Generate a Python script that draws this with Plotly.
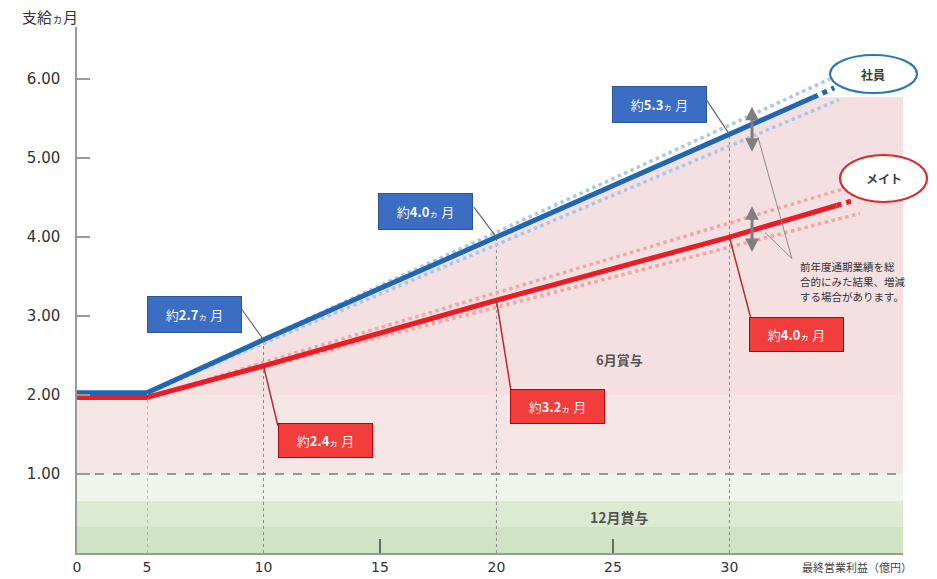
import plotly.graph_objects as go

# ---------------- data ----------------
# 社員 (employees) line: x = 最終営業利益(億円), y = 支給ヵ月
shain_x = [0, 5, 10, 20, 30, 33.6]
shain_y = [2.03, 2.03, 2.7, 4.0, 5.3, 5.77]
shain_ext_x = [33.6, 34.5]
shain_ext_y = [5.77, 5.89]
shain_band_up_x = [5, 34.3]
shain_band_up_y = [2.03, 6.0]
shain_band_lo_x = [5, 34.7]
shain_band_lo_y = [2.03, 5.74]

# メイト line
mate_x = [0, 5, 10, 20, 30, 34.6]
mate_y = [1.97, 1.97, 2.37, 3.2, 4.0, 4.4]
mate_ext_x = [34.6, 35.4]
mate_ext_y = [4.4, 4.47]
mate_band_up_x = [5, 35.0]
mate_band_up_y = [1.97, 4.62]
mate_band_lo_x = [5, 35.6]
mate_band_lo_y = [1.97, 4.3]

# callouts: (x on line, y on line, label value)
shain_callout_x = [10, 20, 30]
shain_callout_y = [2.7, 4.0, 5.3]
shain_callout_txt = ["2.7", "4.0", "5.3"]
mate_callout_x = [10, 20, 30]
mate_callout_y = [2.37, 3.2, 4.0]
mate_callout_txt = ["2.4", "3.2", "4.0"]

note_lines = ["前年度通期業績を総", "合的にみた結果、増減", "する場合があります。"]

vline_x = [5, 10, 20, 30]
x1_ticks = [0, 5]
x2_ticks = [10, 15, 20, 25, 30]
y_ticks = [1, 2, 3, 4, 5, 6]

# ---------------- layout constants ----------------
W, H = 937, 579
ML, MR, MT, MB = 77, 34, 27, 26
PW = W - ML - MR
PH = H - MT - MB
X1_END = 5
X2_MAX = 37.45
D1 = 70 / PW
Y_MAX = 6.66

BLUE = "#1f66b3"
RED = "#ec1c24"
BLUE_L = "#a8c8ea"
RED_L = "#f2a6a6"
BOX_BLUE = "#3b6ec2"
BOX_RED = "#f23d3d"
JP = "Noto Sans CJK JP"
NUM = "DejaVu Sans"

fig = go.Figure()


def split(xs, ys):
    a = [(x, y) for x, y in zip(xs, ys) if x <= X1_END]
    b = [(x, y) for x, y in zip(xs, ys) if x >= X1_END]
    return a, b


# band dotted lines
for bx, by, col in [(shain_band_up_x, shain_band_up_y, BLUE_L), (shain_band_lo_x, shain_band_lo_y, BLUE_L),
                    (mate_band_up_x, mate_band_up_y, RED_L), (mate_band_lo_x, mate_band_lo_y, RED_L)]:
    fig.add_trace(go.Scatter(x=bx, y=by, xaxis="x2", yaxis="y", mode="lines",
                             line=dict(color=col, width=3.5, dash="dot"), hoverinfo="skip"))

# main lines
for xs, ys, ex, ey, col in [(mate_x, mate_y, mate_ext_x, mate_ext_y, RED),
                            (shain_x, shain_y, shain_ext_x, shain_ext_y, BLUE)]:
    a, b = split(xs, ys)
    fig.add_trace(go.Scatter(x=[p[0] for p in a], y=[p[1] for p in a], xaxis="x", yaxis="y",
                             mode="lines", line=dict(color=col, width=5), hoverinfo="skip"))
    fig.add_trace(go.Scatter(x=[p[0] for p in b], y=[p[1] for p in b], xaxis="x2", yaxis="y",
                             mode="lines", line=dict(color=col, width=5), hoverinfo="skip"))
    fig.add_trace(go.Scatter(x=ex, y=ey, xaxis="x2", yaxis="y", mode="lines",
                             line=dict(color=col, width=5, dash="dot"), hoverinfo="skip"))

shapes = []
# green bands (12月賞与)
for y0, y1, c in [(0, 0.33, "#cfe4c2"), (0.33, 0.66, "#dbead1"), (0.66, 1.0, "#eef5ea")]:
    shapes.append(dict(type="rect", xref="paper", yref="y", x0=0, x1=1, y0=y0, y1=y1,
                       fillcolor=c, line=dict(width=0), layer="below"))
# pink band 1-2
shapes.append(dict(type="rect", xref="paper", yref="y", x0=0, x1=1, y0=1, y1=2,
                   fillcolor="#f5e6e6", line=dict(width=0), layer="below"))
# pink region above 2 (under 社員 line)
a, b = split(shain_x, shain_y)
pts = [(5, 2.0)] + b[1:] + [(X2_MAX, b[-1][1]), (X2_MAX, 2.0)]
path = "M " + " L ".join(f"{x},{y}" for x, y in pts) + " Z"
shapes.append(dict(type="path", xref="x2", yref="y", path=path,
                   fillcolor="#f4e0e0", line=dict(width=0), layer="below"))
# dashed line at 1.00
shapes.append(dict(type="line", xref="paper", yref="y", x0=0, x1=1, y0=1, y1=1,
                   line=dict(color="#7a7a7a", width=1.5, dash="dash"), layer="below"))
# vertical dotted guide lines up to 社員 line
for vx in vline_x:
    top = 2.0 if vx == 5 else shain_y[shain_x.index(vx)]
    xr = "x" if vx < X1_END else "x2"
    shapes.append(dict(type="line", xref=xr, yref="y", x0=vx, x1=vx, y0=0, y1=top,
                       line=dict(color="#8a8a8a", width=1, dash="dot"), layer="below"))

# callout boxes (centre positions in data coords) and pointer ends
shain_box = [(7.04, 3.02), (16.95, 4.33), (27.0, 5.68)]
shain_ptr = [(9.08, 3.08), (19.03, 4.38), (29.03, 5.73)]
mate_box = [(12.66, 1.42), (22.64, 1.85), (32.88, 2.77)]
mate_ptr = [(10.62, 1.61), (20.62, 2.06), (30.92, 2.97)]

for (lx, ly), (px, py) in zip(zip(shain_callout_x, shain_callout_y), shain_ptr):
    shapes.append(dict(type="line", xref="x2", yref="y", x0=lx, y0=ly, x1=px, y1=py,
                       line=dict(color="#666666", width=1.2), layer="above"))
for (lx, ly), (px, py) in zip(zip(mate_callout_x, mate_callout_y), mate_ptr):
    shapes.append(dict(type="line", xref="x2", yref="y", x0=lx, y0=ly, x1=px, y1=py,
                       line=dict(color="#b8282c", width=1.5), layer="above"))

# pointer lines from note to arrows
for (sx, sy) in [(31.22, 5.27), (31.52, 4.06)]:
    shapes.append(dict(type="line", xref="x2", yref="y", x0=sx, y0=sy, x1=32.68, y1=3.73,
                       line=dict(color="#8c8c8c", width=1), layer="above"))


def px2paper(px, py):
    return (px - ML) / PW, (H - MB - py) / PH


# ellipses (pixel extents converted to paper)
ell = [((830, 55), (917, 93), "#2e75b6", "社員"), ((840, 155), (927, 202), "#e0262b", "メイト")]
annotations = []
for (ax0, ay0), (ax1, ay1), col, lab in ell:
    x0, y1 = px2paper(ax0, ay0)
    x1, y0 = px2paper(ax1, ay1)
    shapes.append(dict(type="circle", xref="paper", yref="paper", x0=x0, x1=x1, y0=y0, y1=y1,
                       fillcolor="white", line=dict(color=col, width=2.2), layer="above"))
    annotations.append(dict(x=(x0 + x1) / 2, y=(y0 + y1) / 2, xref="paper", yref="paper",
                            xanchor="center", yanchor="middle", text=f"<b>{lab}</b>", showarrow=False,
                            font=dict(family=JP, size=12, color="#404040")))


def box_text(v):
    return f"約<b>{v}</b><span style='font-size:9px'>ヵ</span> 月"


for (bx, by), v in zip(shain_box, shain_callout_txt):
    annotations.append(dict(x=bx, y=by, xref="x2", yref="y", text=box_text(v), showarrow=False,
                            xanchor="center", yanchor="middle",
                            bgcolor=BOX_BLUE, bordercolor="#2f5597", borderwidth=1, borderpad=2,
                            width=89, height=31, font=dict(family=JP, size=13, color="#f4f4f4")))
for (bx, by), v in zip(mate_box, mate_callout_txt):
    annotations.append(dict(x=bx, y=by, xref="x2", yref="y", text=box_text(v), showarrow=False,
                            xanchor="center", yanchor="middle",
                            bgcolor=BOX_RED, bordercolor="#c00000", borderwidth=1, borderpad=2,
                            width=89, height=29, font=dict(family=JP, size=13, color="#f4f4f4")))

# double arrows
for y0, y1 in [(5.08, 5.67), (3.81, 4.41)]:
    annotations.append(dict(x=30.97, y=y0, ax=30.97, ay=y1, xref="x2", yref="y", axref="x2", ayref="y",
                            text="", showarrow=True, arrowhead=2, startarrowhead=2, arrowside="end+start",
                            arrowwidth=3, arrowsize=0.9, startarrowsize=0.9, arrowcolor="#7f7f7f"))

# note (three lines)
for i, line in enumerate(note_lines):
    nx, ny = px2paper(798, 266 + 15 * i)
    annotations.append(dict(x=nx, y=ny, xref="paper", yref="paper", xanchor="left", yanchor="middle",
                            showarrow=False, text=line,
                            font=dict(family=JP, size=10.5, color="#333333")))

# region labels
annotations.append(dict(x=25.3, y=2.45, xref="x2", yref="y", text="<b>6月賞与</b>", showarrow=False,
                        xanchor="center", yanchor="middle",
                        font=dict(family=JP, size=13, color="#555555")))
annotations.append(dict(x=25.3, y=0.456, xref="x2", yref="y", text="<b>12月賞与</b>", showarrow=False,
                        xanchor="center", yanchor="middle",
                        font=dict(family=JP, size=14, color="#555555")))

# axis titles
tx, ty = px2paper(50, 16)
annotations.append(dict(x=tx, y=ty, xref="paper", yref="paper", xanchor="center", yanchor="middle",
                        showarrow=False, text="支給<span style='font-size:11px'>ヵ</span>月",
                        font=dict(family=JP, size=15, color="#333333")))
tx, ty = px2paper(800, 567)
annotations.append(dict(x=tx, y=ty, xref="paper", yref="paper", xanchor="left", yanchor="middle",
                        showarrow=False, text="最終営業利益（億円）",
                        font=dict(family=JP, size=11, color="#444444")))

tickfont = dict(family=NUM, size=14, color="#333333")
ytickfont = dict(family=NUM, size=15, color="#333333")
fig.update_layout(
    width=W, height=H,
    margin=dict(l=ML, r=MR, t=MT, b=MB),
    paper_bgcolor="white", plot_bgcolor="white",
    showlegend=False,
    shapes=shapes, annotations=annotations,
    xaxis=dict(domain=[0, D1], range=[0, X1_END], anchor="y", showline=True, linecolor="#9a9a9a",
               linewidth=1.5, showgrid=False, zeroline=False, tickmode="array", tickvals=x1_ticks,
               ticks="", tickfont=tickfont, ticklabelstandoff=0, automargin=False, fixedrange=True),
    xaxis2=dict(domain=[D1, 1], range=[X1_END, X2_MAX], anchor="y", showline=True, linecolor="#9a9a9a",
                linewidth=1.5, showgrid=False, zeroline=False, tickmode="array", tickvals=x2_ticks,
                ticks="", tickfont=tickfont, ticklabelstandoff=0, automargin=False,
                minor=dict(tickmode="array", tickvals=[15, 25], ticks="inside", ticklen=14,
                           tickcolor="#6a6a6a", tickwidth=1.5, showgrid=False)),
    yaxis=dict(domain=[0, 1], range=[0, Y_MAX], anchor="x", showline=True, linecolor="#9a9a9a",
               linewidth=1.5, showgrid=False, zeroline=False, tickmode="array", tickvals=y_ticks,
               tickformat=".2f", ticks="inside", ticklen=13, tickcolor="#9a9a9a", tickwidth=1.5,
               tickfont=ytickfont, ticklabelstandoff=12, automargin=False),
)

fig.write_html("out.html")
